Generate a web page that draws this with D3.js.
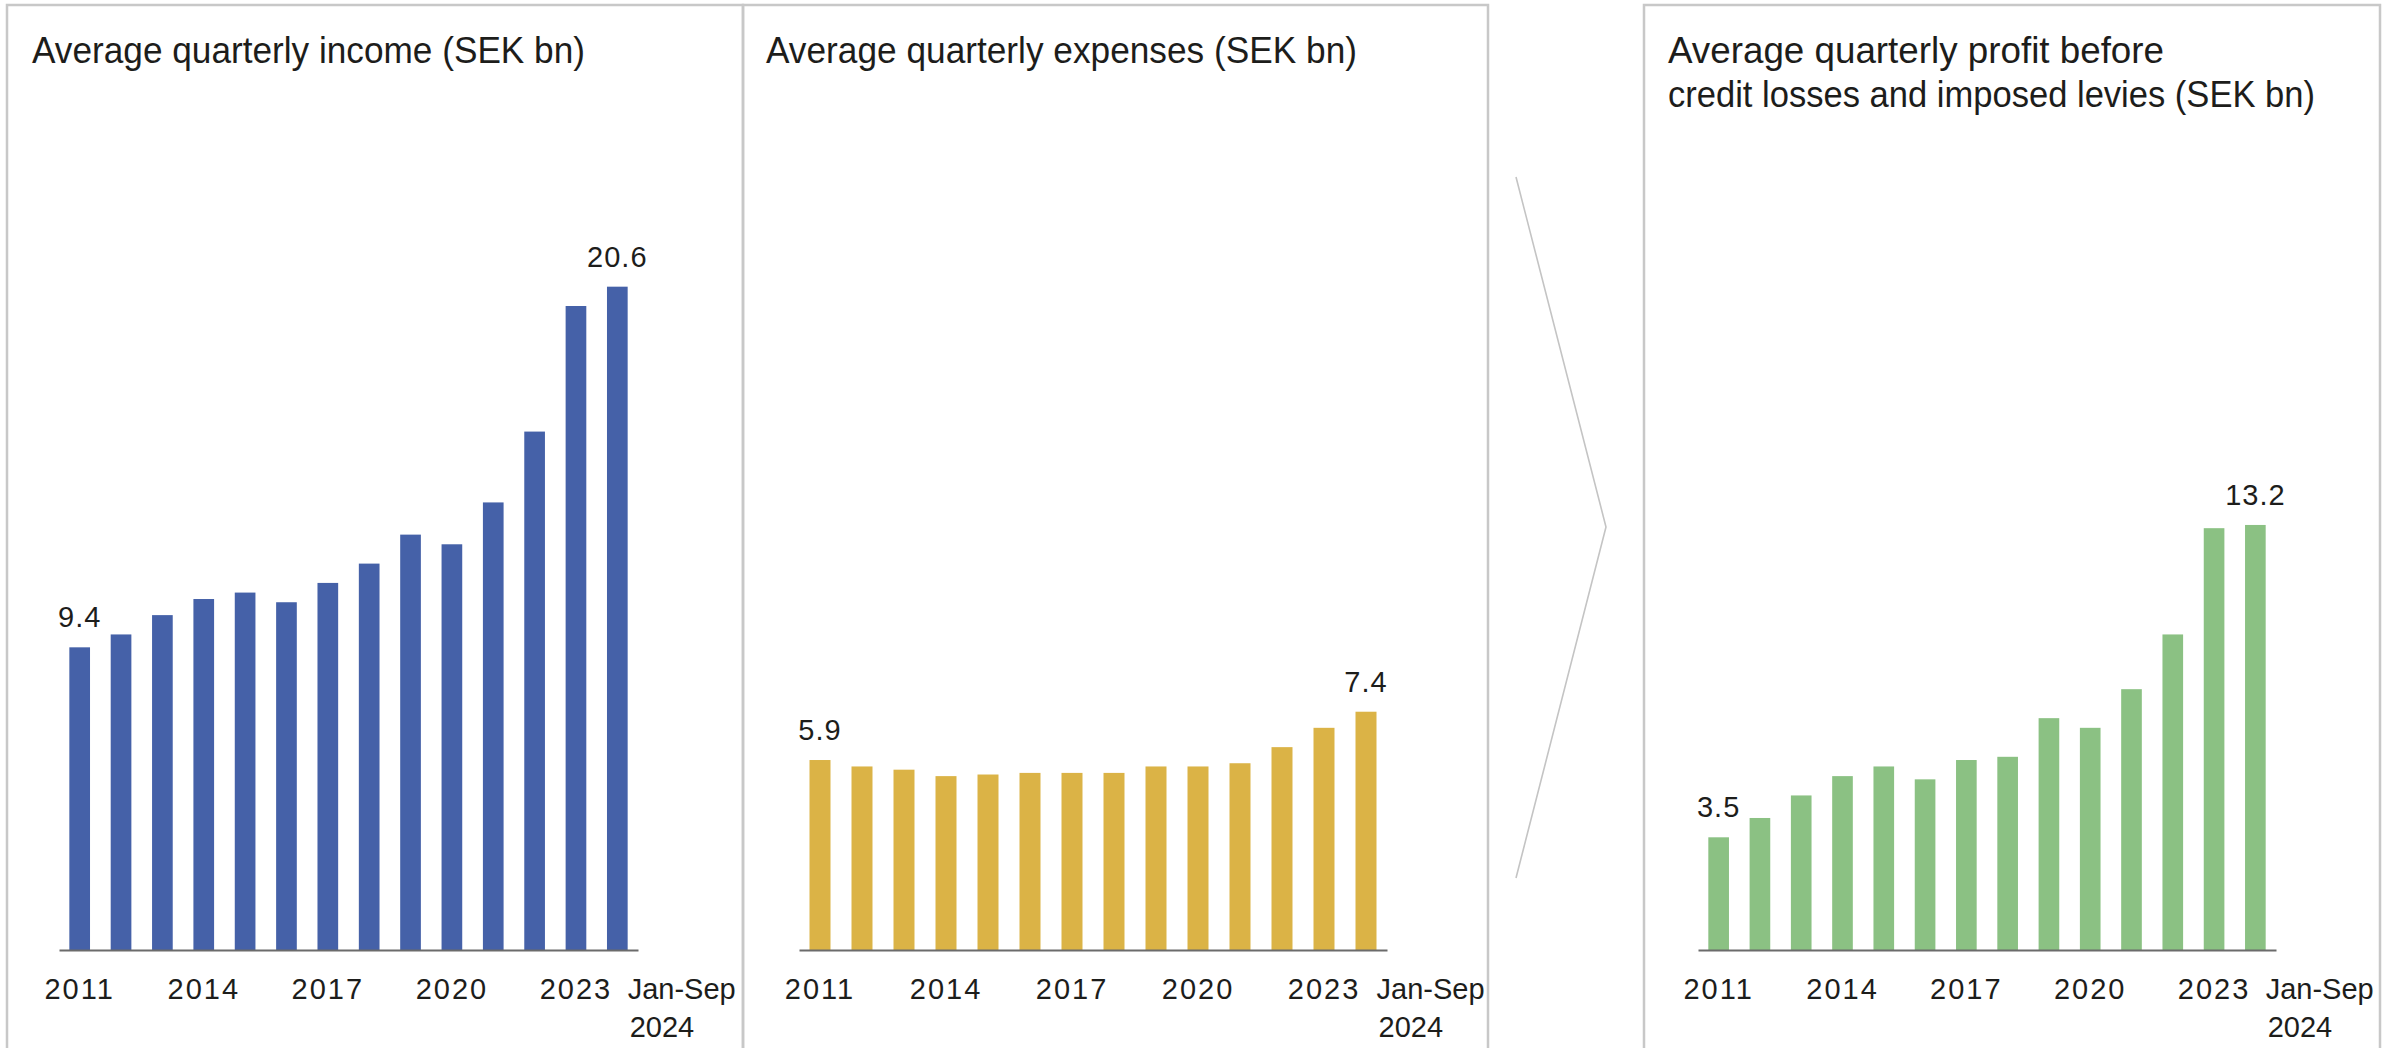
<!DOCTYPE html>
<html>
<head>
<meta charset="utf-8">
<script src="https://cdn.jsdelivr.net/npm/d3@7"></script>
<style>
  body { margin: 0; background: #fff; }
  svg { display: block; }
  text { font-family: "Liberation Sans", Arial, sans-serif; fill: #1d1d1b; }
</style>
</head>
<body>
<svg id="chart" width="2397" height="1048"></svg>
<script>
// categories (14 bars, last one is Jan-Sep 2024)
var years = ['2011','2012','2013','2014','2015','2016','2017','2018','2019','2020','2021','2022','2023','Jan-Sep 2024'];
var tickYears = ['2011','2014','2017','2020','2023'];

// SEK bn
var income   = [9.4, 9.8, 10.4, 10.9, 11.1, 10.8, 11.4, 12.0, 12.9, 12.6, 13.9, 16.1, 20.0, 20.6];
var expenses = [5.9, 5.7, 5.6, 5.4, 5.45, 5.5, 5.5, 5.5, 5.7, 5.7, 5.8, 6.3, 6.9, 7.4];
var profit   = [3.5, 4.1, 4.8, 5.4, 5.7, 5.3, 5.9, 6.0, 7.2, 6.9, 8.1, 9.8, 13.1, 13.2];

var titles = [
  ['Average quarterly income (SEK bn)'],
  ['Average quarterly expenses (SEK bn)'],
  ['Average quarterly profit before', 'credit losses and imposed levies (SEK bn)']
];

var svg = d3.select('#chart');
var baseY = 950;
var y = d3.scaleLinear().domain([0, 21]).range([baseY, baseY - 21 * 32.2]);

var panels = [
  {vals: income,   color: '#4561a8', x0: 59,   x1: 638,  tx: 32,   tw: [553]},
  {vals: expenses, color: '#dbb346', x0: 799,  x1: 1387, tx: 766,  tw: [591]},
  {vals: profit,   color: '#8bc183', x0: 1698, x1: 2276, tx: 1668, tw: [496, 647]}
];

// frames
var border = '#c8c8c8';
function frame(l, r) {
  svg.append('path')
    .attr('d', 'M' + l + ',1048V5H' + r + 'V1048')
    .attr('fill', 'none').attr('stroke', border).attr('stroke-width', 2.5);
}
frame(7, 743);
frame(743, 1488);
frame(1644, 2380);

// chevron between expenses and profit
svg.append('path')
  .attr('d', d3.line()([[1516, 177], [1606, 527], [1516, 878]]))
  .attr('fill', 'none').attr('stroke', '#c4c4c4').attr('stroke-width', 1.6);

panels.forEach(function(p, k) {
  var g = svg.append('g');
  var x = d3.scaleBand().domain(years).range([p.x0, p.x1]).paddingInner(0.5).paddingOuter(0.25);

  titles[k].forEach(function(t, i) {
    g.append('text')
      .attr('x', p.tx).attr('y', 63 + i * 44)
      .attr('font-size', 37)
      .attr('textLength', p.tw[i]).attr('lengthAdjust', 'spacingAndGlyphs')
      .text(t);
  });

  g.selectAll('rect').data(p.vals).enter().append('rect')
    .attr('x', function(d, i) { return x(years[i]); })
    .attr('width', x.bandwidth())
    .attr('y', function(d) { return y(d); })
    .attr('height', function(d) { return baseY - y(d); })
    .attr('fill', p.color);

  // value labels on first and last bar
  [0, p.vals.length - 1].forEach(function(i) {
    g.append('text')
      .attr('x', x(years[i]) + x.bandwidth() / 2)
      .attr('y', y(p.vals[i]) - 20)
      .attr('text-anchor', 'middle')
      .attr('font-size', 29)
      .attr('letter-spacing', 1)
      .text(p.vals[i].toFixed(1));
  });

  // axis
  var ax = g.append('g').attr('transform', 'translate(0,' + baseY + ')')
    .call(d3.axisBottom(x).tickValues(tickYears).tickSize(0).tickPadding(0));
  ax.select('.domain').attr('stroke', '#6b6b6b').attr('stroke-width', 2);
  ax.selectAll('.tick text')
    .attr('y', 49).attr('dy', null)
    .attr('font-size', 29).attr('letter-spacing', 2)
    .attr('font-family', null).attr('fill', '#1d1d1b');

  var last = years[years.length - 1];
  var lx = x(last) + x.bandwidth();
  last.split(' ').forEach(function(t, i) {
    g.append('text')
      .attr('x', lx + (i ? 2 : 0)).attr('y', 999 + i * 38)
      .attr('font-size', 29)
      .text(t);
  });
});
</script>
</body>
</html>
